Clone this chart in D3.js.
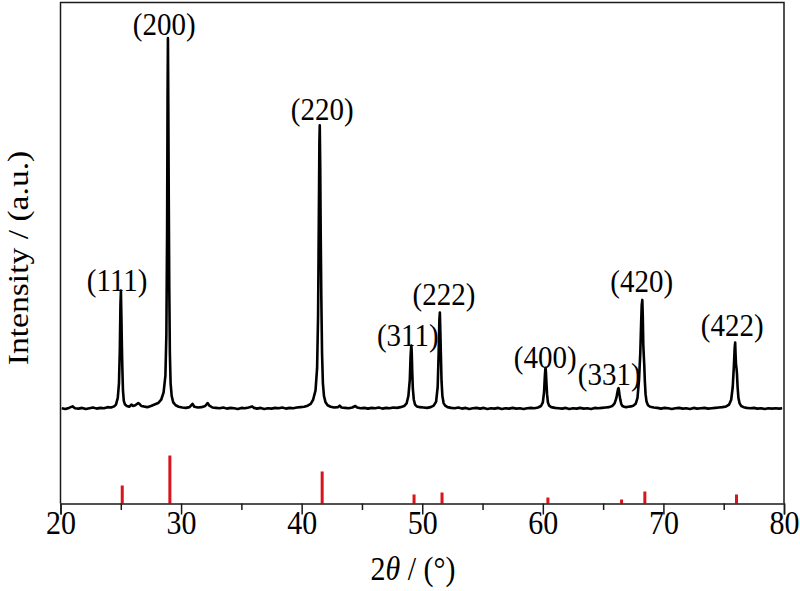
<!DOCTYPE html>
<html>
<head>
<meta charset="utf-8">
<script src="https://cdn.jsdelivr.net/npm/d3@7"></script>
<style>
  html, body { margin: 0; padding: 0; background: #fff; }
  svg { display: block; font-family: "Liberation Serif", "Times New Roman", serif; }
</style>
</head>
<body>
<svg id="chart" width="800" height="591"></svg>
<script>
// ---- data ----
// measured XRD pattern: [2theta (deg), intensity (a.u.)]
const pattern = [
  [20.1,2],[20.4,0],[20.7,3],[21.0,7],[21.2,2],[21.5,1],[21.8,3],[22.1,0],[22.4,2],[22.7,4],
  [23.0,1],[23.3,3],[23.6,2],[23.9,5],[24.2,4],[24.45,7],[24.6,12],[24.75,30],
  [24.85,70],[24.92,160],[24.97,280],[25.01,319],[25.05,250],[25.09,170],[25.13,110],[25.18,50],
  [25.25,22],[25.35,12],[25.5,8],[25.7,6],[25.9,12],[26.0,8],[26.2,10],[26.45,16],[26.55,14],
  [26.7,8],[26.9,7],[27.2,5],[27.5,8],[27.8,12],[28.1,16],[28.35,25],[28.55,45],[28.7,90],
  [28.78,200],[28.84,480],[28.88,850],[28.91,1000],[28.94,820],[28.98,560],[29.02,330],[29.07,150],
  [29.13,70],[29.22,35],[29.35,18],[29.55,10],[29.8,6],[30.1,4],[30.4,3],[30.7,5],[30.95,14],
  [31.1,6],[31.4,4],[31.7,5],[32.0,8],[32.2,16],[32.35,9],[32.6,4],[32.9,3],[33.2,2],[33.5,4],
  [33.8,1],[34.1,3],[34.4,2],[34.7,0],[35.0,3],[35.3,2],[35.6,4],[35.9,7],[36.05,3],[36.3,1],
  [36.6,3],[36.9,0],[37.2,2],[37.5,1],[37.8,3],[38.1,2],[38.4,4],[38.7,1],[39.0,3],[39.3,2],
  [39.6,4],[39.9,5],[40.2,6],[40.5,9],[40.75,14],[40.95,25],[41.15,50],[41.28,110],
  [41.36,250],[41.42,500],[41.47,720],[41.50,765],[41.54,650],[41.58,470],[41.63,300],[41.69,150],
  [41.76,70],[41.85,35],[41.98,18],[42.15,10],[42.4,6],[42.7,4],[43.0,5],[43.15,9],[43.3,4],
  [43.6,3],[43.9,2],[44.2,4],[44.45,8],[44.6,4],[44.9,2],[45.2,3],[45.5,1],[45.8,3],[46.1,2],
  [46.4,4],[46.7,1],[47.0,3],[47.3,2],[47.6,4],[47.9,3],[48.2,5],[48.5,8],[48.7,15],[48.85,35],
  [48.97,80],[49.03,140],[49.08,168],[49.10,171],[49.13,150],[49.17,100],[49.22,55],[49.3,25],
  [49.4,12],[49.55,7],[49.8,5],[50.1,4],[50.4,3],[50.7,5],[50.95,9],[51.15,20],[51.28,60],
  [51.36,150],[51.42,240],[51.46,260],[51.5,210],[51.55,140],[51.6,75],[51.67,35],[51.77,16],
  [51.9,9],[52.1,5],[52.4,3],[52.7,2],[53.0,4],[53.3,1],[53.6,3],[53.9,0],[54.2,2],[54.5,3],
  [54.8,1],[55.1,3],[55.4,0],[55.7,2],[56.0,1],[56.3,3],[56.6,0],[56.9,2],[57.2,1],[57.5,3],
  [57.8,1],[58.1,2],[58.4,0],[58.7,2],[59.0,3],[59.3,2],[59.6,4],[59.85,8],[60.0,18],[60.1,45],
  [60.17,90],[60.21,108],[60.23,110],[60.26,98],[60.3,70],[60.35,40],[60.42,18],[60.52,9],
  [60.7,5],[61.0,3],[61.3,2],[61.6,1],[61.9,3],[62.2,0],[62.5,2],[62.8,1],[63.1,3],[63.4,1],
  [63.7,2],[64.0,0],[64.3,3],[64.6,2],[64.9,3],[65.2,4],[65.5,5],[65.75,8],[65.95,15],[66.1,30],
  [66.2,48],[66.25,55],[66.28,56],[66.32,48],[66.36,38],[66.42,26],[66.5,14],[66.6,8],[66.75,6],
  [66.9,5],[67.1,6],[67.3,7],[67.5,9],[67.7,14],[67.85,30],[67.98,80],
  [68.08,150],[68.15,230],[68.2,280],[68.25,294],[68.29,250],[68.33,175],[68.37,145],[68.41,120],
  [68.46,75],[68.52,40],[68.6,20],[68.72,10],[68.9,6],[69.2,4],[69.5,3],[69.8,1],[70.1,3],
  [70.4,2],[70.7,0],[71.0,2],[71.3,3],[71.6,1],[71.9,2],[72.2,0],[72.5,3],[72.8,1],[73.1,2],
  [73.4,3],[73.7,1],[74.0,2],[74.3,3],[74.6,4],[74.9,5],[75.2,7],[75.45,12],[75.62,25],[75.75,60],
  [75.85,120],[75.91,165],[75.95,179],[75.98,150],[76.02,120],[76.06,110],[76.1,95],[76.15,60],
  [76.22,30],[76.32,15],[76.45,8],[76.65,5],[76.9,3],[77.2,2],[77.5,3],[77.8,1],[78.1,2],
  [78.4,0],[78.7,2],[79.0,1],[79.3,2],[79.6,1],[79.85,2]
];

// Miller index labels of the peaks
const peakLabels = ["(111)", "(200)", "(220)", "(311)", "(222)", "(400)", "(331)", "(420)", "(422)"];
const peakLabelX = [24.7, 28.6, 41.7, 48.8, 51.8, 60.2, 65.5, 68.2, 75.7];
const peakLabelI = [318, 1008, 778, 171, 280, 110, 64, 316, 198];

// reference (standard card) lines
const refPos = [25.12, 29.07, 41.70, 49.32, 51.64, 60.42, 66.53, 68.46, 76.06];
const refInt = [37.5, 100, 66.7, 18.8, 22.9, 12.5, 8.3, 25, 18.8];

const xTicks = [20, 30, 40, 50, 60, 70, 80];
const xMinorTicks = [25, 35, 45, 55, 65, 75];

// ---- layout ----
const svg = d3.select("#chart");
const pLeft = 60.5, pRight = 784, pTop = 2.5, pBottom = 503.5;
const stretch = 1.12; // glyphs in the reference are taller than wide

const x = d3.scaleLinear().domain([20, 80]).range([pLeft, pRight]);
const y = d3.scaleLinear().domain([0, 1000]).range([409, 38]);
const yRef = d3.scaleLinear().domain([0, 100]).range([pBottom, 455.5]);

// pattern line
svg.append("path")
  .datum(pattern)
  .attr("fill", "none")
  .attr("stroke", "#000")
  .attr("stroke-width", 2.6)
  .attr("stroke-linejoin", "round")
  .attr("d", d3.line().x(d => x(d[0])).y(d => y(d[1])));

// reference sticks
svg.append("g").selectAll("line")
  .data(refPos.map((p, i) => [p, refInt[i]]))
  .join("line")
  .attr("x1", d => x(d[0])).attr("x2", d => x(d[0]))
  .attr("y1", yRef(0)).attr("y2", d => yRef(d[1]))
  .attr("stroke", "#d8141c")
  .attr("stroke-width", 3);

// frame (top, left, right)
svg.append("path")
  .attr("d", `M${pLeft},${pBottom} V${pTop} H${pRight} V${pBottom}`)
  .attr("fill", "none")
  .attr("stroke", "#1a1a1a")
  .attr("stroke-width", 1.5);

// bottom axis
const gx = svg.append("g").attr("transform", `translate(0,${pBottom})`);
gx.call(d3.axisBottom(x).tickValues(xTicks).tickSize(11).tickPadding(4).tickFormat(d3.format("d")));
gx.select(".domain").attr("stroke", "#1a1a1a").attr("stroke-width", 1.5);
gx.selectAll(".tick line").attr("stroke", "#1a1a1a").attr("stroke-width", 1.5);
const tickBase = 30;
gx.selectAll(".tick text")
  .attr("font-family", "Liberation Serif")
  .attr("font-size", 30)
  .attr("fill", "#000")
  .attr("y", 0)
  .attr("dy", null)
  .attr("transform", `translate(0,${tickBase}) scale(1,${stretch})`);
const gxm = svg.append("g").attr("transform", `translate(0,${pBottom})`);
gxm.call(d3.axisBottom(x).tickValues(xMinorTicks).tickSize(6.5).tickFormat(""));
gxm.select(".domain").remove();
gxm.selectAll(".tick line").attr("stroke", "#1a1a1a").attr("stroke-width", 1.5);

// peak labels
svg.append("g").selectAll("text")
  .data(peakLabels.map((t, i) => ({t, x: peakLabelX[i], i: peakLabelI[i]})))
  .join("text")
  .attr("transform", d => `translate(${x(d.x)},${y(d.i)}) scale(1,${stretch})`)
  .attr("text-anchor", "middle")
  .attr("font-size", 29)
  .attr("fill", "#000")
  .text(d => d.t);

// axis titles
const xt = svg.append("text")
  .attr("transform", `translate(413,580) scale(1,${stretch})`)
  .attr("text-anchor", "middle")
  .attr("font-size", 30)
  .attr("fill", "#000");
xt.append("tspan").text("2");
xt.append("tspan").attr("font-style", "italic").text("θ");
xt.append("tspan").text(" / (°)");

svg.append("text")
  .attr("transform", `translate(28,258) rotate(-90) scale(${stretch},1)`)
  .attr("text-anchor", "middle")
  .attr("font-size", 30)
  .attr("fill", "#000")
  .text("Intensity / (a.u.)");
</script>
</body>
</html>
